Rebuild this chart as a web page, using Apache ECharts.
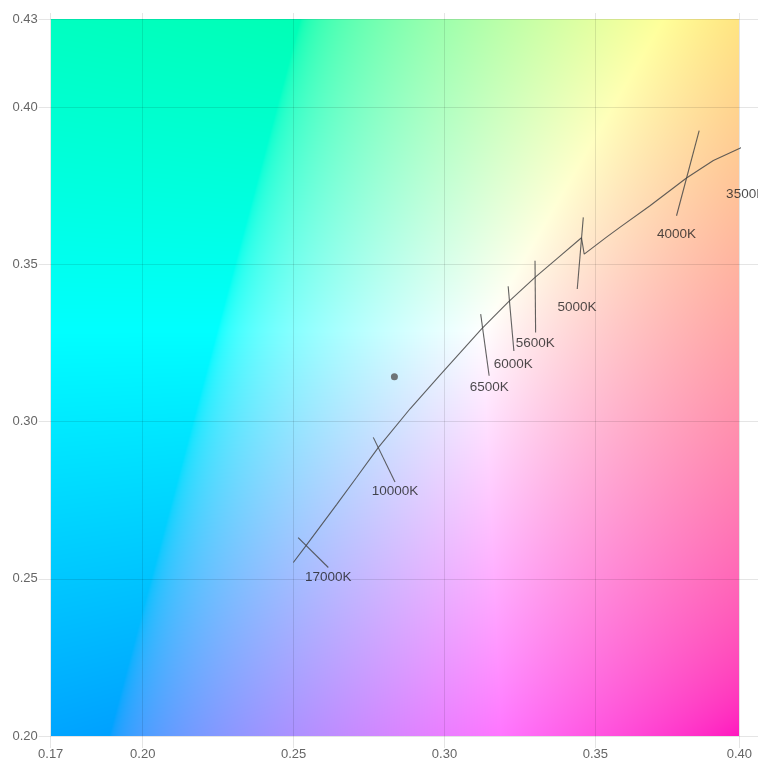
<!DOCTYPE html>
<html><head><meta charset="utf-8">
<script src="https://cdn.jsdelivr.net/npm/echarts@6/dist/echarts.min.js"></script>
<style>html,body{margin:0;padding:0;background:#fff}#c{width:758px;height:760px}</style>
</head><body><div id="c"></div>
<script>
// axis extents
const xRange = [0.1695, 0.3977];
const yRange = [0.20, 0.428];

// Planckian locus as drawn
const locusX = [0.2499, 0.2540, 0.2643, 0.2709, 0.2781, 0.2886, 0.2985, 0.3123, 0.3211, 0.3300, 0.3372, 0.3454, 0.3463, 0.3537, 0.3581, 0.3681, 0.3802, 0.3891, 0.3979, 0.4039, 0.4080];
const locusY = [0.2552, 0.2604, 0.2737, 0.2823, 0.2918, 0.3041, 0.3148, 0.3295, 0.3380, 0.3459, 0.3518, 0.3585, 0.3533, 0.3587, 0.3618, 0.3687, 0.3775, 0.3831, 0.3870, 0.3904, 0.3925];

// isotherm (CCT) segments
const isoLabels = ['17000K', '10000K', '6500K', '6000K', '5600K', '5000K', '4000K', '3500K'];
const isoTopX = [0.2515, 0.2764, 0.3120, 0.3211, 0.3300, 0.3460, 0.3844, 0.4108];
const isoTopY = [0.2631, 0.2950, 0.3342, 0.3431, 0.3512, 0.3650, 0.3926, 0.4024];
const isoBotX = [0.2615, 0.2836, 0.3148, 0.3230, 0.3302, 0.3440, 0.3769, 0.3999];
const isoBotY = [0.2536, 0.2808, 0.3146, 0.3225, 0.3284, 0.3422, 0.3655, 0.3753];
const labelX = [0.2615, 0.2836, 0.3148, 0.3228, 0.3301, 0.3439, 0.3769, 0.3998];
const labelY = [0.2505, 0.2780, 0.3110, 0.3182, 0.3248, 0.3365, 0.3595, 0.3724];

// measured point
const pointX = [0.2834];
const pointY = [0.3143];

const gridColor = 'rgba(0,0,0,0.1)';
const lineColor = 'rgba(70,70,70,0.85)';
const font = "'Liberation Sans', Arial, Helvetica, sans-serif";

let bgCache = null;
function gammaEnc(c) {
  return c <= 0.0031308 ? 12.92 * c : 1.055 * Math.pow(c, 1 / 2.4) - 0.055;
}
function makeBg(w, h, x0, x1, y0, y1) {
  const key = w + 'x' + h;
  if (bgCache && bgCache.key === key) return bgCache.cv;
  const cv = document.createElement('canvas');
  cv.width = w; cv.height = h;
  const ctx = cv.getContext('2d');
  const img = ctx.createImageData(w, h);
  const d = img.data;
  for (let j = 0; j < h; j++) {
    const cy = y1 - (j + 0.5) / h * (y1 - y0);
    for (let i = 0; i < w; i++) {
      const cx = x0 + (i + 0.5) / w * (x1 - x0);
      const X = cx / cy, Y = 1, Z = (1 - cx - cy) / cy;
      let r = 3.2406 * X - 1.5372 * Y - 0.4986 * Z;
      let g = -0.9689 * X + 1.8758 * Y + 0.0415 * Z;
      let b = 0.0557 * X - 0.2040 * Y + 1.0570 * Z;
      r = Math.max(0, r); g = Math.max(0, g); b = Math.max(0, b);
      const m = Math.max(r, g, b) || 1;
      const k = (j * w + i) * 4;
      d[k] = Math.round(255 * gammaEnc(r / m));
      d[k + 1] = Math.round(255 * gammaEnc(g / m));
      d[k + 2] = Math.round(255 * gammaEnc(b / m));
      d[k + 3] = 255;
    }
  }
  ctx.putImageData(img, 0, 0);
  bgCache = { key, cv };
  return cv;
}

const series = [];
series.push({
  type: 'custom', xAxisIndex: 0, yAxisIndex: 0, z: -1, silent: true,
  data: [[xRange[0], yRange[0], xRange[1], yRange[1]]],
  encode: { x: [0, 2], y: [1, 3] },
  renderItem: function (params, api) {
    const p0 = api.coord([api.value(0), api.value(3)]);
    const p1 = api.coord([api.value(2), api.value(1)]);
    const w = Math.round(p1[0] - p0[0]), h = Math.round(p1[1] - p0[1]);
    return {
      type: 'image',
      style: { image: makeBg(w, h, api.value(0), api.value(2), api.value(1), api.value(3)), x: p0[0], y: p0[1], width: p1[0] - p0[0], height: p1[1] - p0[1] }
    };
  }
});
series.push({
  type: 'line', xAxisIndex: 0, yAxisIndex: 0, silent: true, clip: false,
  symbol: 'none', showSymbol: false, smooth: false,
  lineStyle: { color: lineColor, width: 1.1 },
  data: locusX.map((x, i) => [x, locusY[i]])
});
isoLabels.forEach((name, i) => {
  series.push({
    type: 'line', xAxisIndex: 0, yAxisIndex: 0, silent: true, clip: false,
    symbol: 'none', showSymbol: false,
    lineStyle: { color: lineColor, width: 1.1 },
    data: [[isoTopX[i], isoTopY[i]], [isoBotX[i], isoBotY[i]]]
  });
});
series.push({
  type: 'scatter', xAxisIndex: 0, yAxisIndex: 0, silent: true, clip: false,
  symbolSize: 1, itemStyle: { color: 'rgba(0,0,0,0)' },
  label: {
    show: true, position: 'inside', color: '#1e1e1e', fontSize: 13.5, fontFamily: font,
    formatter: p => isoLabels[p.dataIndex]
  },
  data: labelX.map((x, i) => [x, labelY[i]])
});
series.push({
  type: 'scatter', xAxisIndex: 0, yAxisIndex: 0, silent: true,
  symbolSize: 7, itemStyle: { color: '#555' },
  data: pointX.map((x, i) => [x, pointY[i]])
});

const option = {
  animation: false,
  backgroundColor: '#fff',
  grid: [
    { left: 50.7, right: 18.7, top: 19.3, bottom: 24, outerBoundsMode: 'none' },
    { left: 50.7, right: -10, top: 19.3, bottom: 24, outerBoundsMode: 'none' },
    { left: 50.7, right: 18.7, top: 13, bottom: 24, outerBoundsMode: 'none' }
  ],
  xAxis: [
    {
      gridIndex: 0, type: 'value', min: xRange[0], max: xRange[1],
      axisLine: { show: false },
      axisTick: { show: true, length: 12, lineStyle: { color: gridColor, width: 1 } },
      axisLabel: { margin: 12, color: '#666', fontSize: 13, fontFamily: font, showMinLabel: true, showMaxLabel: true, formatter: v => v.toFixed(2) },
      splitLine: { show: false }
    },
    { gridIndex: 1, type: 'value', min: 0, max: 1, show: false },
    {
      gridIndex: 2, type: 'value', min: xRange[0], max: xRange[1],
      axisLine: { show: false }, axisTick: { show: false }, axisLabel: { show: false },
      splitLine: { show: true, showMinLine: true, showMaxLine: true, lineStyle: { color: gridColor, width: 1 } }
    }
  ],
  yAxis: [
    {
      gridIndex: 0, type: 'value', min: yRange[0], max: yRange[1],
      axisLine: { show: false },
      axisTick: { show: true, length: 12, lineStyle: { color: gridColor, width: 1 } },
      axisLabel: { margin: 13, color: '#666', fontSize: 13, fontFamily: font, showMinLabel: true, showMaxLabel: true, formatter: v => v.toFixed(2) },
      splitLine: { show: false }
    },
    {
      gridIndex: 1, type: 'value', min: yRange[0], max: yRange[1],
      axisLine: { show: false }, axisTick: { show: false }, axisLabel: { show: false },
      splitLine: { show: true, showMinLine: true, showMaxLine: true, lineStyle: { color: gridColor, width: 1 } }
    },
    { gridIndex: 2, type: 'value', min: 0, max: 1, show: false }
  ],
  series: series
};

const chart = echarts.init(document.getElementById('c'), null, { renderer: 'canvas' });
chart.setOption(option);
</script>
</body></html>
